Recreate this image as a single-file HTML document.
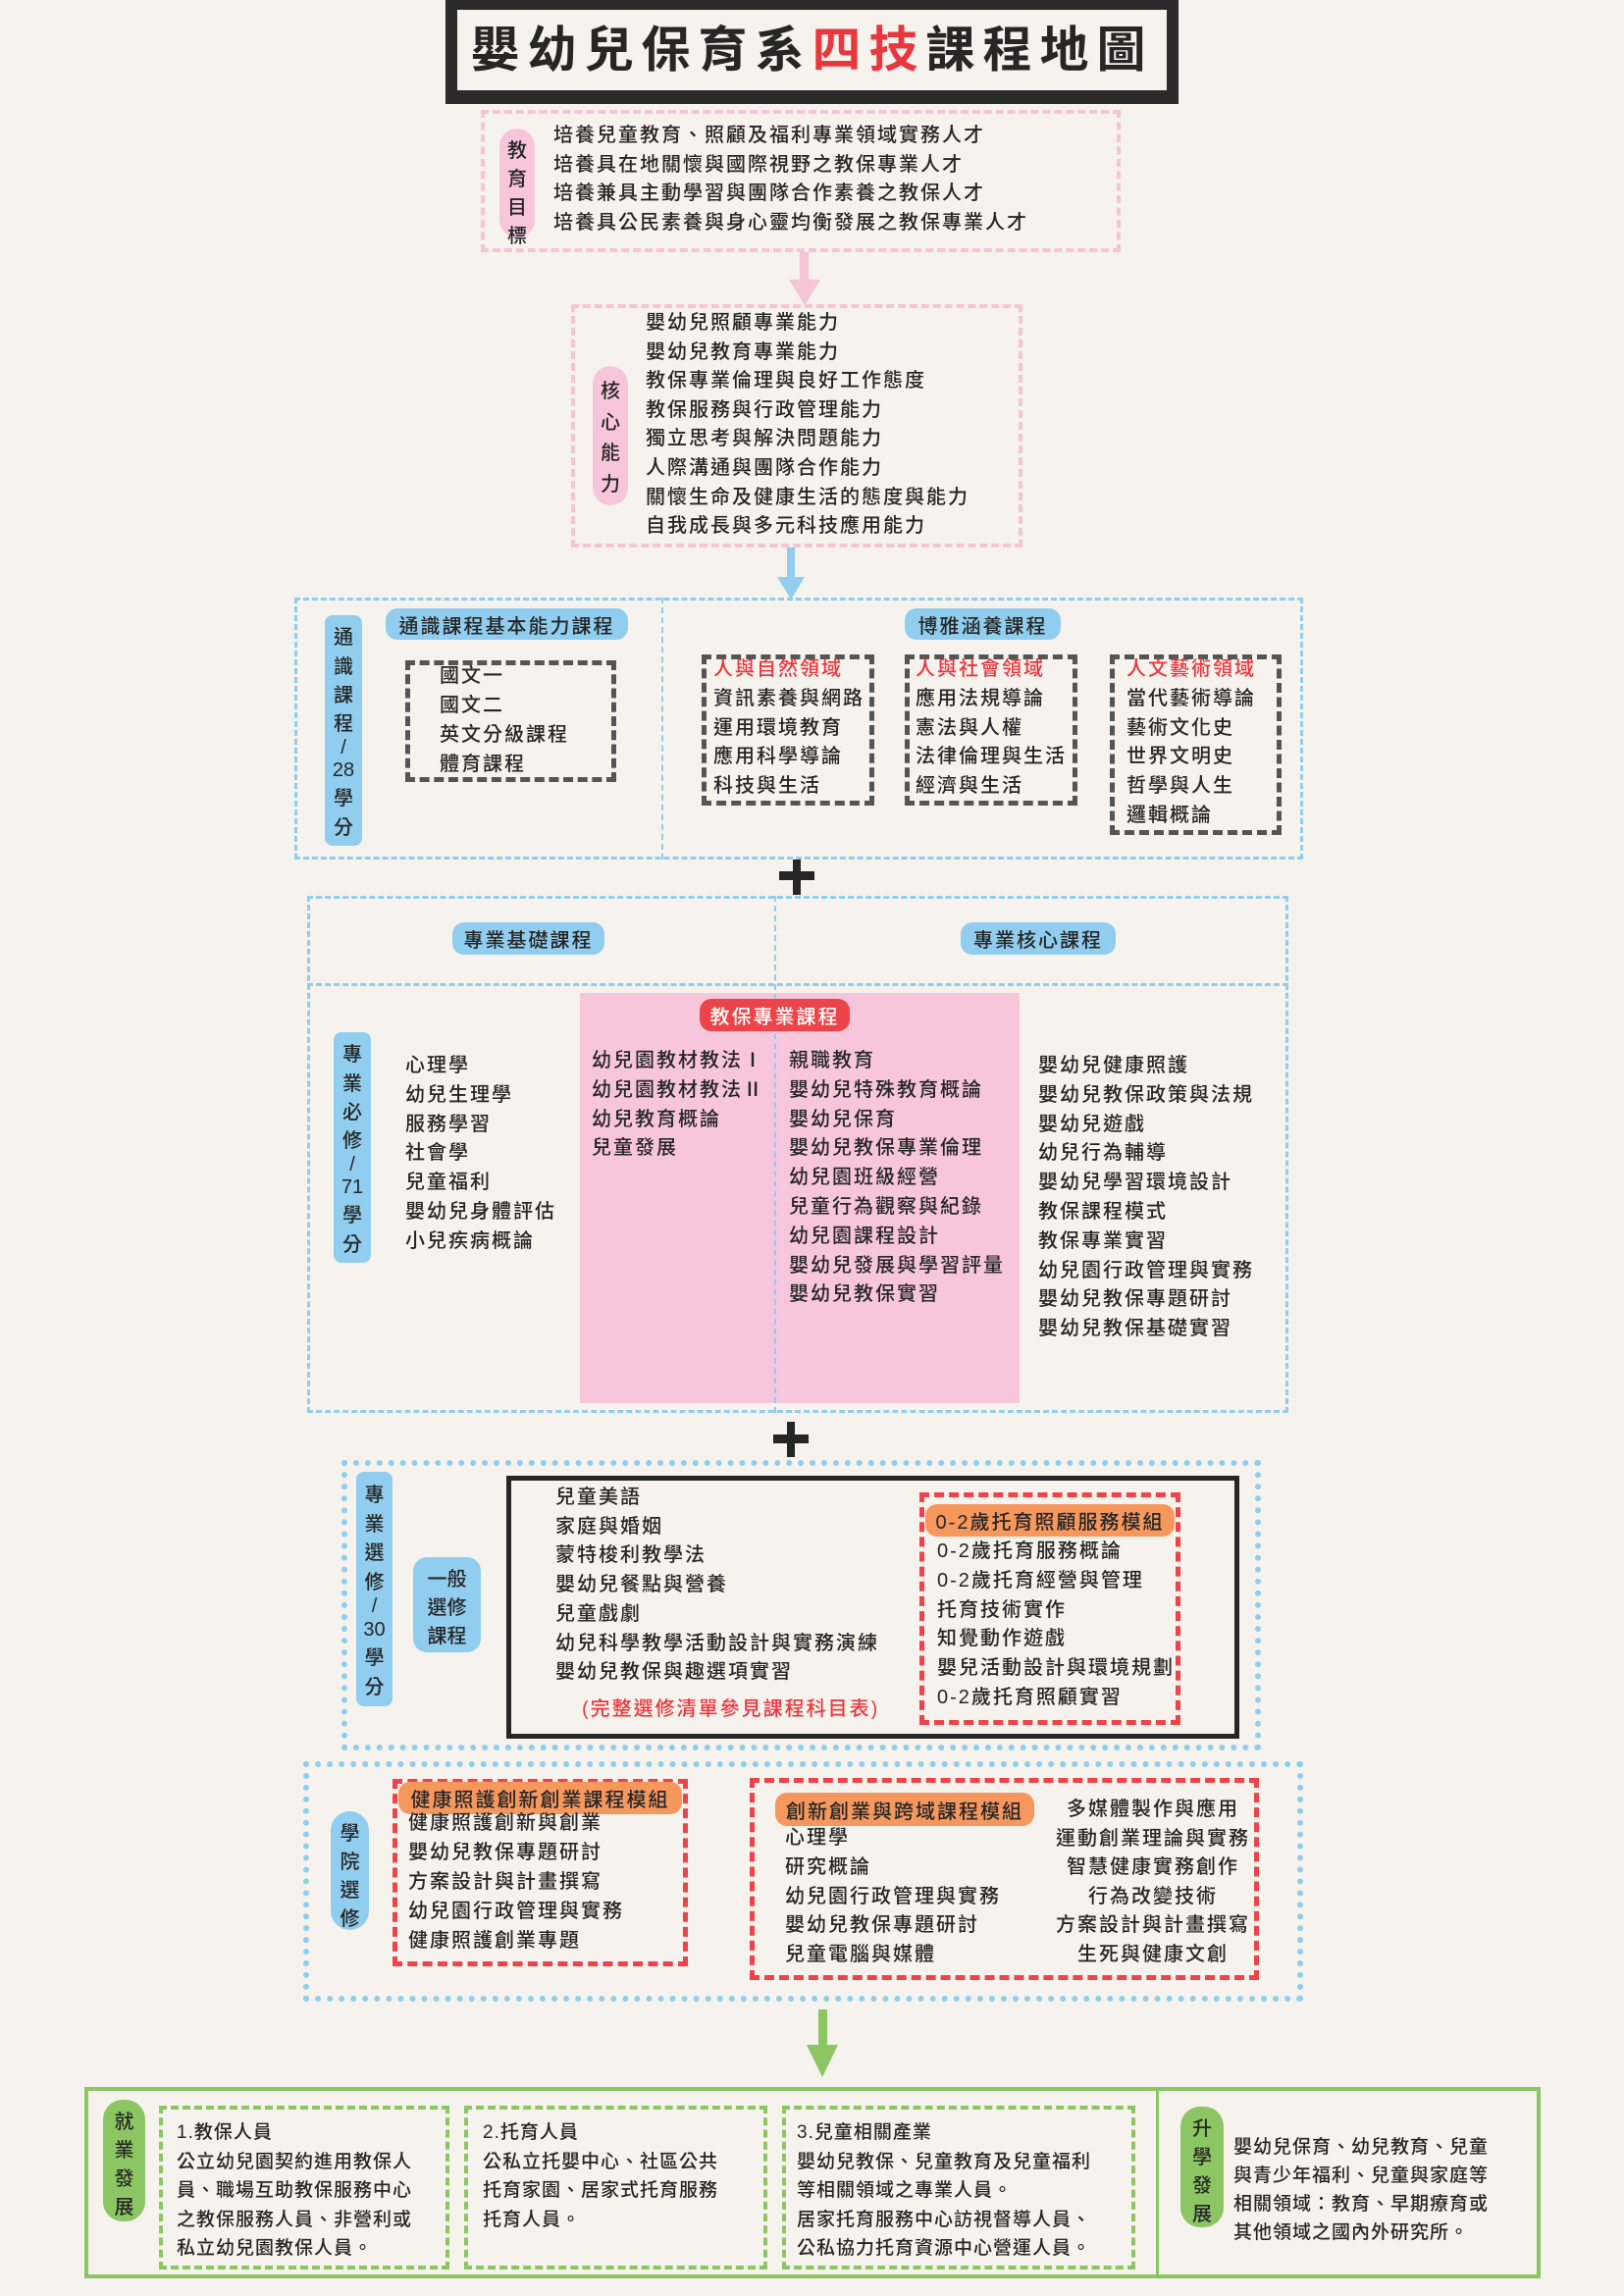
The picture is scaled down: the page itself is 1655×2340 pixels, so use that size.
<!DOCTYPE html>
<html><head><meta charset="utf-8">
<style>
body{margin:0;background:#f6f3ee;}
#p{position:relative;width:1655px;height:2340px;overflow:hidden;background:#f6f3ee;font-family:"Liberation Sans","Noto Sans CJK TC",sans-serif;color:#262626;}
.a{position:absolute;box-sizing:border-box;}
.t{position:absolute;white-space:nowrap;font-size:20px;letter-spacing:2px;font-weight:500;}
.pill{position:absolute;box-sizing:border-box;border-radius:12px;display:flex;align-items:center;justify-content:center;font-size:20px;letter-spacing:2px;font-weight:500;white-space:nowrap;}
.vp{position:absolute;box-sizing:border-box;border-radius:18px;display:flex;flex-direction:column;align-items:center;justify-content:space-evenly;font-size:20px;font-weight:500;padding:6px 0;}
.b{background:#90cdee;}
.pk{background:#f8c6da;}
.g{background:#8cc662;}
.r{background:#ec4448;color:#fff;}
.o{background:#f6975e;}
.red{color:#e8383e;}
</style></head><body><div id="p">

<!-- Title -->
<div class="a" style="left:454px;top:0;width:747px;height:106px;border:12px solid #2b2b2b;border-top-width:10px;border-bottom-width:14px;background:#f6f3ee;"></div>
<div class="a" style="left:454px;top:16px;width:747px;text-align:center;font-size:50px;letter-spacing:8px;font-weight:700;line-height:70px;white-space:nowrap;">嬰幼兒保育系<span class="red">四技</span>課程地圖</div>

<!-- Goals -->
<div class="a" style="left:490px;top:112px;width:652px;height:145px;border:4px dashed #f7c3d6;"></div>
<div class="vp pk" style="left:509px;top:131px;width:36px;height:111px;"><span>教</span><span>育</span><span>目</span><span>標</span></div>
<div class="t" style="left:564px;top:124px;line-height:29.5px;">培養兒童教育、照顧及福利專業領域實務人才<br>培養具在地關懷與國際視野之教保專業人才<br>培養兼具主動學習與團隊合作素養之教保人才<br>培養具公民素養與身心靈均衡發展之教保專業人才</div>

<svg class="a" style="left:800px;top:257px" width="40" height="55"><rect x="15" y="0" width="9" height="30" fill="#f7c3d6"/><polygon points="4,28 36,28 20,54" fill="#f7c3d6"/></svg>

<!-- Core -->
<div class="a" style="left:582px;top:310px;width:460px;height:248px;border:4px dashed #f7c3d6;"></div>
<div class="vp pk" style="left:604px;top:373px;width:36px;height:142px;"><span>核</span><span>心</span><span>能</span><span>力</span></div>
<div class="t" style="left:658px;top:315px;line-height:29.6px;">嬰幼兒照顧專業能力<br>嬰幼兒教育專業能力<br>教保專業倫理與良好工作態度<br>教保服務與行政管理能力<br>獨立思考與解決問題能力<br>人際溝通與團隊合作能力<br>關懷生命及健康生活的態度與能力<br>自我成長與多元科技應用能力</div>

<svg class="a" style="left:788px;top:558px" width="36" height="54"><rect x="14" y="0" width="8" height="32" fill="#90cdee"/><polygon points="4,30 32,30 18,53" fill="#90cdee"/></svg>

<!-- General education -->
<div class="a" style="left:300px;top:609px;width:1028px;height:267px;border:3px dashed #90cdee;"></div>
<div class="a" style="left:674px;top:609px;width:0;height:267px;border-left:2px dashed #90cdee;"></div>
<div class="vp b" style="left:331px;top:627px;width:38px;height:235px;border-radius:8px;"><span>通</span><span>識</span><span>課</span><span>程</span><span>/</span><span>28</span><span>學</span><span>分</span></div>
<div class="pill b" style="left:393px;top:620px;width:247px;height:32px;">通識課程基本能力課程</div>
<div class="a" style="left:413px;top:673px;width:215px;height:124px;border:5px dashed #555;"></div>
<div class="t" style="left:448px;top:674px;line-height:30px;">國文一<br>國文二<br>英文分級課程<br>體育課程</div>
<div class="pill b" style="left:922px;top:620px;width:159px;height:32px;">博雅涵養課程</div>
<div class="a" style="left:715px;top:667px;width:176px;height:154px;border:5px dashed #555;"></div>
<div class="a" style="left:922px;top:667px;width:176px;height:154px;border:5px dashed #555;"></div>
<div class="a" style="left:1131px;top:667px;width:175px;height:184px;border:5px dashed #555;"></div>
<div class="t" style="left:727px;top:668px;line-height:29.8px;"><span class="red">人與自然領域</span><br>資訊素養與網路<br>運用環境教育<br>應用科學導論<br>科技與生活</div>
<div class="t" style="left:933px;top:668px;line-height:29.8px;"><span class="red">人與社會領域</span><br>應用法規導論<br>憲法與人權<br>法律倫理與生活<br>經濟與生活</div>
<div class="t" style="left:1148px;top:668px;line-height:29.8px;"><span class="red">人文藝術領域</span><br>當代藝術導論<br>藝術文化史<br>世界文明史<br>哲學與人生<br>邏輯概論</div>

<!-- plus 1 -->
<div class="a" style="left:794px;top:876px;width:36px;height:36px;"><div class="a" style="left:14px;top:0;width:8px;height:36px;background:#262626"></div><div class="a" style="left:0;top:12px;width:36px;height:9px;background:#262626"></div></div>

<!-- Professional -->
<div class="a" style="left:313px;top:913px;width:1000px;height:527px;border:3px dashed #90cdee;"></div>
<div class="a" style="left:591px;top:1012px;width:448px;height:418px;background:#f8c6da;"></div>
<div class="a" style="left:313px;top:1002px;width:1000px;height:0;border-top:3px dashed #90cdee;"></div>
<div class="a" style="left:789px;top:913px;width:0;height:527px;border-left:2px dashed #90cdee;"></div>
<div class="pill b" style="left:461px;top:940px;width:155px;height:33px;">專業基礎課程</div>
<div class="pill b" style="left:979px;top:940px;width:158px;height:33px;">專業核心課程</div>
<div class="pill r" style="left:713px;top:1018px;width:153px;height:33px;">教保專業課程</div>
<div class="vp b" style="left:340px;top:1052px;width:38px;height:235px;border-radius:8px;"><span>專</span><span>業</span><span>必</span><span>修</span><span>/</span><span>71</span><span>學</span><span>分</span></div>
<div class="t" style="left:413px;top:1072px;line-height:29.8px;">心理學<br>幼兒生理學<br>服務學習<br>社會學<br>兒童福利<br>嬰幼兒身體評估<br>小兒疾病概論</div>
<div class="t" style="left:603px;top:1067px;line-height:29.8px;">幼兒園教材教法Ⅰ<br>幼兒園教材教法Ⅱ<br>幼兒教育概論<br>兒童發展</div>
<div class="t" style="left:804px;top:1067px;line-height:29.8px;">親職教育<br>嬰幼兒特殊教育概論<br>嬰幼兒保育<br>嬰幼兒教保專業倫理<br>幼兒園班級經營<br>兒童行為觀察與紀錄<br>幼兒園課程設計<br>嬰幼兒發展與學習評量<br>嬰幼兒教保實習</div>
<div class="t" style="left:1058px;top:1072px;line-height:29.8px;">嬰幼兒健康照護<br>嬰幼兒教保政策與法規<br>嬰幼兒遊戲<br>幼兒行為輔導<br>嬰幼兒學習環境設計<br>教保課程模式<br>教保專業實習<br>幼兒園行政管理與實務<br>嬰幼兒教保專題研討<br>嬰幼兒教保基礎實習</div>

<!-- plus 2 -->
<div class="a" style="left:788px;top:1449px;width:36px;height:36px;"><div class="a" style="left:14px;top:0;width:8px;height:36px;background:#262626"></div><div class="a" style="left:0;top:13px;width:36px;height:9px;background:#262626"></div></div>

<!-- Electives -->
<div class="a" style="left:348px;top:1488px;width:937px;height:296px;border:6px dotted #90cdee;"></div>
<div class="vp b" style="left:363px;top:1500px;width:37px;height:239px;border-radius:8px;"><span>專</span><span>業</span><span>選</span><span>修</span><span>/</span><span>30</span><span>學</span><span>分</span></div>
<div class="vp b" style="left:421px;top:1587px;width:69px;height:97px;border-radius:14px;"><span>一般</span><span>選修</span><span>課程</span></div>
<div class="a" style="left:516px;top:1504px;width:747px;height:268px;border:5px solid #262626;"></div>
<div class="t" style="left:566px;top:1512px;line-height:29.7px;">兒童美語<br>家庭與婚姻<br>蒙特梭利教學法<br>嬰幼兒餐點與營養<br>兒童戲劇<br>幼兒科學教學活動設計與實務演練<br>嬰幼兒教保與趣選項實習</div>
<div class="t red" style="left:593px;top:1728px;line-height:28px;">(完整選修清單參見課程科目表)</div>
<div class="a" style="left:937px;top:1521px;width:266px;height:237px;border:5px dashed #ec4448;"></div>
<div class="pill o" style="left:943px;top:1533px;width:254px;height:33px;">0-2歲托育照顧服務模組</div>
<div class="t" style="left:955px;top:1567px;line-height:29.8px;">0-2歲托育服務概論<br>0-2歲托育經營與管理<br>托育技術實作<br>知覺動作遊戲<br>嬰兒活動設計與環境規劃<br>0-2歲托育照顧實習</div>

<!-- Academy electives -->
<div class="a" style="left:309px;top:1795px;width:1019px;height:245px;border:6px dotted #90cdee;"></div>
<div class="vp b" style="left:337px;top:1846px;width:39px;height:121px;border-radius:20px;"><span>學</span><span>院</span><span>選</span><span>修</span></div>
<div class="a" style="left:400px;top:1813px;width:301px;height:191px;border:5px dashed #ec4448;"></div>
<div class="pill o" style="left:406px;top:1816px;width:289px;height:33px;">健康照護創新創業課程模組</div>
<div class="t" style="left:416px;top:1843px;line-height:30px;">健康照護創新與創業<br>嬰幼兒教保專題研討<br>方案設計與計畫撰寫<br>幼兒園行政管理與實務<br>健康照護創業專題</div>
<div class="a" style="left:764px;top:1812px;width:519px;height:206px;border:5px dashed #ec4448;"></div>
<div class="pill o" style="left:790px;top:1827px;width:264px;height:34px;">創新創業與跨域課程模組</div>
<div class="t" style="left:800px;top:1859px;line-height:29.8px;">心理學<br>研究概論<br>幼兒園行政管理與實務<br>嬰幼兒教保專題研討<br>兒童電腦與媒體</div>
<div class="t" style="left:1060px;top:1830px;width:230px;text-align:center;line-height:29.6px;">多媒體製作與應用<br>運動創業理論與實務<br>智慧健康實務創作<br>行為改變技術<br>方案設計與計畫撰寫<br>生死與健康文創</div>

<!-- green arrow -->
<svg class="a" style="left:818px;top:2048px" width="40" height="70"><rect x="16" y="0" width="9" height="40" fill="#8cc662"/><polygon points="4,36 36,36 20,69" fill="#8cc662"/></svg>

<!-- Bottom -->
<div class="a" style="left:86px;top:2127px;width:1484px;height:195px;border:4px solid #8cc662;"></div>
<div class="a" style="left:1178px;top:2127px;width:3px;height:195px;background:#8cc662;"></div>
<div class="vp g" style="left:105px;top:2140px;width:43px;height:124px;border-radius:20px;"><span>就</span><span>業</span><span>發</span><span>展</span></div>
<div class="a" style="left:162px;top:2146px;width:296px;height:167px;border:4px dashed #8cc662;"></div>
<div class="a" style="left:473px;top:2146px;width:309px;height:167px;border:4px dashed #8cc662;"></div>
<div class="a" style="left:797px;top:2146px;width:360px;height:167px;border:4px dashed #8cc662;"></div>
<div class="t" style="left:180px;top:2159px;line-height:29.5px;font-size:19px;letter-spacing:1px;">1.教保人員<br>公立幼兒園契約進用教保人<br>員、職場互助教保服務中心<br>之教保服務人員、非營利或<br>私立幼兒園教保人員。</div>
<div class="t" style="left:492px;top:2159px;line-height:29.5px;font-size:19px;letter-spacing:1px;">2.托育人員<br>公私立托嬰中心、社區公共<br>托育家園、居家式托育服務<br>托育人員。</div>
<div class="t" style="left:812px;top:2159px;line-height:29.5px;font-size:19px;letter-spacing:1px;">3.兒童相關產業<br>嬰幼兒教保、兒童教育及兒童福利<br>等相關領域之專業人員。<br>居家托育服務中心訪視督導人員、<br>公私協力托育資源中心營運人員。</div>
<div class="vp g" style="left:1203px;top:2147px;width:44px;height:123px;border-radius:20px;"><span>升</span><span>學</span><span>發</span><span>展</span></div>
<div class="t" style="left:1257px;top:2174px;line-height:29px;font-size:19px;letter-spacing:1px;">嬰幼兒保育、幼兒教育、兒童<br>與青少年福利、兒童與家庭等<br>相關領域：教育、早期療育或<br>其他領域之國內外研究所。</div>

</div></body></html>
